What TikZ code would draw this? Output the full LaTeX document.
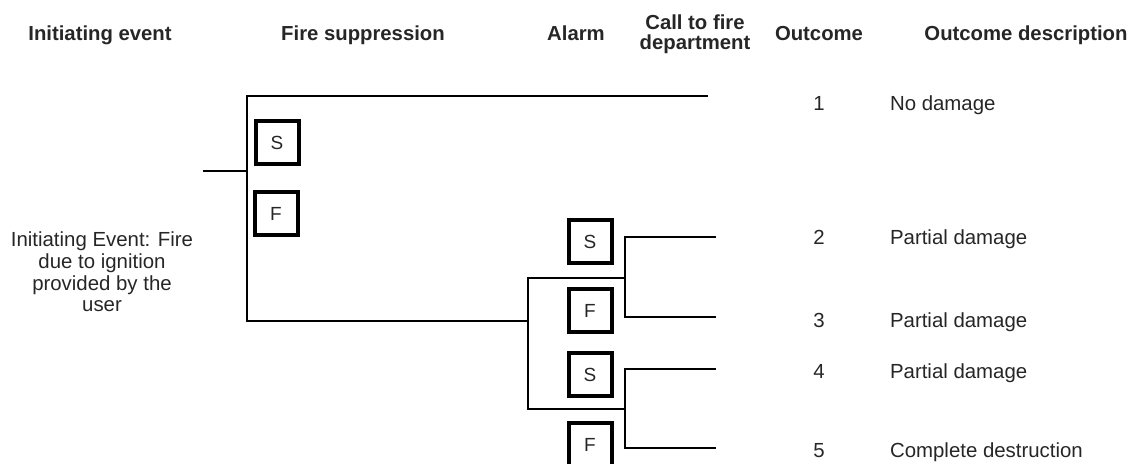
\documentclass[tikz,border=0pt]{standalone}
\usepackage{fontspec}
\setmainfont{Liberation Sans}
\colorlet{ink}{black!85}
\begin{document}
\begin{tikzpicture}[x=0.5pt,y=-0.5pt,
    branch/.style={line width=1.2pt},
    sfbox/.style={draw,line width=2pt,minimum width=21.5pt,minimum height=21.5pt,inner sep=0pt,text=ink,font=\fontsize{9.5}{11}\selectfont},
    head/.style={font=\bfseries\fontsize{10.15}{10}\selectfont,align=center,text=ink},
    txt/.style={font=\fontsize{10.2}{10.8}\selectfont,text=ink}]
    \useasboundingbox (0,0) rectangle (1132,464);

    % column headings
    \node[head,anchor=base] (hinit) at (100,41) {Initiating event};
    \node[head,anchor=base] (hfire) at (363,41) {Fire suppression};
    \node[head,anchor=base] (halarm) at (576,41) {Alarm};
    \node[head] (hcall) at (695,34) {Call to fire\\department};
    \node[head,anchor=base] (hout) at (819,41) {Outcome};
    \node[head,anchor=base] (hdesc) at (1026,41) {Outcome description};

    \node[txt,align=center] (init) at (102,272) {Initiating Event: Fire\\due to ignition\\provided by the\\user};

    % success / failure boxes
    \node[sfbox] (fs) at (277,143) {S};
    \node[sfbox] (ff) at (276,214) {F};
    \node[sfbox] (as1) at (590,242) {S};
    \node[sfbox] (af1) at (590,311) {F};
    \node[sfbox] (as2) at (590,375) {S};
    \node[sfbox] (af2) at (590,445) {F};

    % tree
    \coordinate (root) at (203,171);
    \coordinate (j1) at (247,171);
    \coordinate (j1t) at (247,96);
    \coordinate (j1b) at (247,321);
    \coordinate (e1) at (708,96);
    \coordinate (j2) at (528,321);
    \coordinate (j2t) at (528,278);
    \coordinate (j2b) at (528,409);
    \coordinate (j3) at (625,278);
    \coordinate (j3t) at (625,237);
    \coordinate (j3b) at (625,317);
    \coordinate (e2) at (716,237);
    \coordinate (e3) at (716,317);
    \coordinate (j4) at (625,409);
    \coordinate (j4t) at (625,369);
    \coordinate (j4b) at (625,448);
    \coordinate (e4) at (716,369);
    \coordinate (e5) at (716,448);

    \draw[branch] (root) -- (j1);
    \draw[branch] (e1) -- (j1t) -- (j1b) -- (j2);
    \draw[branch] (j3) -- (j2t) -- (j2b) -- (j4);
    \draw[branch] (e2) -- (j3t) -- (j3b) -- (e3);
    \draw[branch] (e4) -- (j4t) -- (j4b) -- (e5);

    % outcomes
    \foreach \n/\y/\d in {1/111/No damage, 2/245/Partial damage, 3/328/Partial damage,
        4/379/Partial damage, 5/458/Complete destruction} {
        \node[txt,anchor=base] (o\n) at (819,\y) {\n};
        \node[txt,anchor=base west] (d\n) at (883,\y) {\d};
    }
\end{tikzpicture}
\end{document}
